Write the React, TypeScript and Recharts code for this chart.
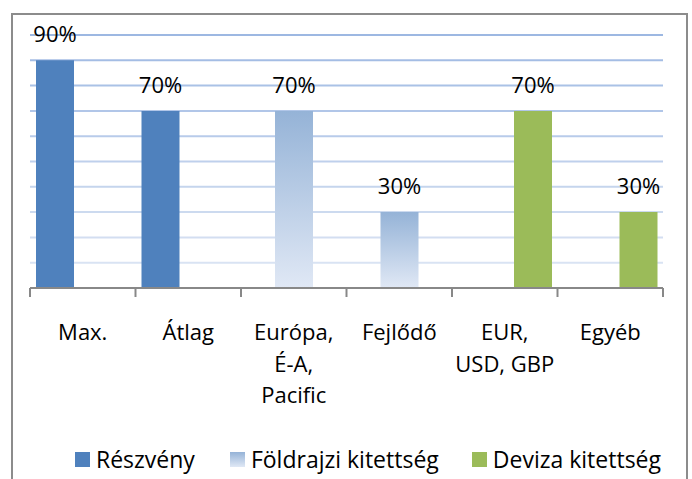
import React from 'react';
import { BarChart, Bar, XAxis, YAxis, CartesianGrid, Legend, LabelList } from 'recharts';

const categories = ['Max.', 'Átlag', 'Európa,\nÉ-A,\nPacific', 'Fejlődő', 'EUR,\nUSD, GBP', 'Egyéb'];
const reszveny = [90, 70, null, null, null, null];
const foldrajzi = [null, null, 70, 30, null, null];
const deviza = [null, null, null, null, 70, 30];
const yTicks = [0, 10, 20, 30, 40, 50, 60, 70, 80, 90, 100];

const seriesNames = ['Részvény', 'Földrajzi kitettség', 'Deviza kitettség'];

const data = categories.map((name, i) => ({
    name,
    reszveny: reszveny[i],
    foldrajzi: foldrajzi[i],
    deviza: deviza[i],
}));

const FONT = '"Open Sans", sans-serif';
const AXIS_GRAY = '#888888';

// grid lines fade from a light blue at the bottom to a stronger blue at the top
const mix = (a: number[], b: number[], t: number) =>
    `rgb(${a.map((v, k) => Math.round(v + (b[k] - v) * t)).join(',')})`;
const GRID_LIGHT = [224, 232, 245];
const GRID_DARK = [157, 184, 226];

const GridLine = (props: any) => {
    const { x1, y1, x2, y2, index } = props;
    const t = index / (yTicks.length - 1);
    return <line x1={x1} y1={y1} x2={x2} y2={y2} stroke={mix(GRID_LIGHT, GRID_DARK, t)} strokeWidth={2} />;
};

const CategoryTick = (props: any) => {
    const { x, y, payload, index } = props;
    const half = payload && payload.offset ? payload.offset : 52.75;
    const lines = String(payload.value).split('\n');
    return (
        <g>
            <line x1={x - half} y1={y} x2={x - half} y2={y + 9} stroke={AXIS_GRAY} strokeWidth={2} />
            {index === categories.length - 1 && (
                <line x1={x + half} y1={y} x2={x + half} y2={y + 9} stroke={AXIS_GRAY} strokeWidth={2} />
            )}
            <text x={x} y={y + 52} textAnchor="middle" fill="#000" fontSize={22} fontFamily={FONT}>
                {lines.map((l, i) => (
                    <tspan key={i} x={x} dy={i === 0 ? 0 : 31.7}>{l}</tspan>
                ))}
            </text>
        </g>
    );
};

const swatches = [
    '#4F81BD',
    'linear-gradient(to bottom, #95B3D7, #E0E8F5)',
    '#9BBB59',
];

const renderLegend = () => (
    <div style={{ display: 'flex', alignItems: 'center', fontFamily: FONT, fontSize: 23, lineHeight: '30px', color: '#000', whiteSpace: 'nowrap' }}>
        {seriesNames.map((n, i) => (
            <div key={n} style={{ display: 'flex', alignItems: 'center', marginRight: i === 0 ? 35 : 33 }}>
                <span style={{ display: 'inline-block', width: 15, height: 15, background: swatches[i], marginRight: 6 }} />
                <span>{n}</span>
            </div>
        ))}
    </div>
);

const fmt = (v: any) => (v == null ? '' : `${v}%`);

export default function App() {
    return (
        <div style={{ position: 'absolute', left: 0, top: 0, width: 692, height: 479, overflow: 'hidden', background: '#fff' }}>
            <div style={{ position: 'absolute', left: 11, top: 13, width: 673, height: 500, border: '2px solid #8c8c8c' }} />
            <div style={{ position: 'absolute', left: 0, top: 0 }}>
                <BarChart
                    width={692}
                    height={479}
                    data={data}
                    margin={{ top: 35, right: 29, left: 30, bottom: 0 }}
                    barSize={38}
                    barGap={-10}
                    style={{ fontFamily: FONT }}
                >
                    <defs>
                        <linearGradient id="geoFill" x1="0" y1="0" x2="0" y2="1">
                            <stop offset="0%" stopColor="#95B3D7" />
                            <stop offset="100%" stopColor="#E0E8F5" />
                        </linearGradient>
                    </defs>
                    <CartesianGrid vertical={false} horizontal={GridLine} />
                    <XAxis
                        dataKey="name"
                        height={191}
                        interval={0}
                        tickLine={false}
                        tickSize={0}
                        tickMargin={0}
                        axisLine={{ stroke: AXIS_GRAY, strokeWidth: 2 }}
                        tick={<CategoryTick />}
                    />
                    <YAxis hide type="number" domain={[0, 100]} ticks={yTicks} />
                    <Legend layout="horizontal" verticalAlign="middle" align="center" content={renderLegend} wrapperStyle={{ left: 75, top: 444, width: 'auto' }} />
                    <Bar dataKey="reszveny" name={seriesNames[0]} fill="#4F81BD" isAnimationActive={false}>
                        <LabelList dataKey="reszveny" position="top" offset={18} formatter={fmt} fill="#000" fontSize={22} fontFamily={FONT} />
                    </Bar>
                    <Bar dataKey="foldrajzi" name={seriesNames[1]} fill="url(#geoFill)" isAnimationActive={false}>
                        <LabelList dataKey="foldrajzi" position="top" offset={18} formatter={fmt} fill="#000" fontSize={22} fontFamily={FONT} />
                    </Bar>
                    <Bar dataKey="deviza" name={seriesNames[2]} fill="#9BBB59" isAnimationActive={false}>
                        <LabelList dataKey="deviza" position="top" offset={18} formatter={fmt} fill="#000" fontSize={22} fontFamily={FONT} />
                    </Bar>
                </BarChart>
            </div>
        </div>
    );
}
